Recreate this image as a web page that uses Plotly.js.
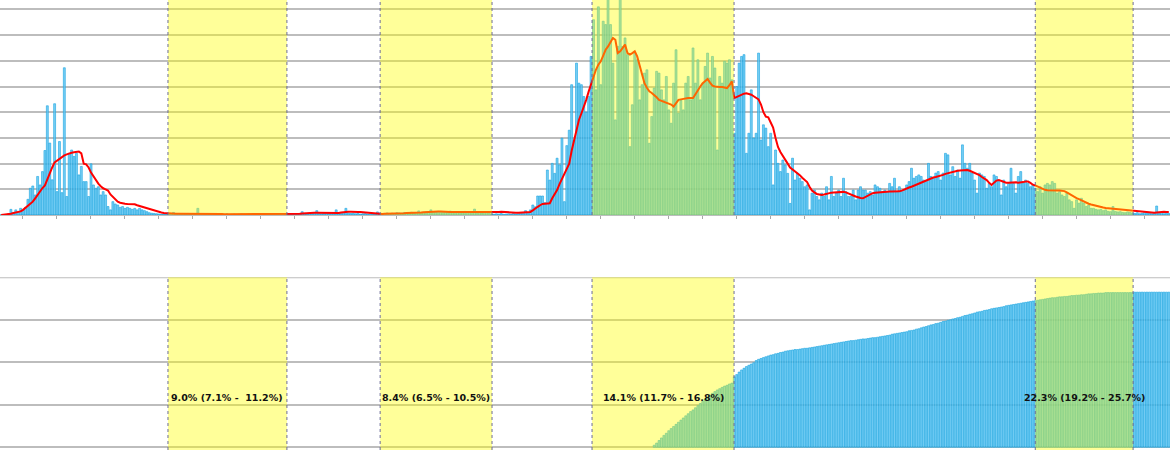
<!DOCTYPE html>
<html><head><meta charset="utf-8">
<script src="https://cdn.plot.ly/plotly-3.0.1.min.js"></script>
<style>html,body{margin:0;padding:0;background:#fff}#chart{width:1170px;height:450px}</style>
</head><body><div id="chart"></div>
<script>
// ---- daily values (top panel), one value per day, grid unit = 100 ----
const dailyWave1 = [0,0,2,5,22,8,20,10,26,18,30,61,104,113,78,150,117,169,251,425,280,137,433,91,286,87,573,72,240,253,228,240,156,189,130,130,72,199,117,104,110,78,91,78,33,20,52,43,39,30,33,26,30,26,22,26,20,26,20,17,13,9,7,6,5,4,3,4,3];
const dailyPeriod1 = [4,5,10,6,4,3,5,4,6,3,5,4,26,5,3,4,6,3,4,5,3,2,4,3,5,2,3,4,2,3,5,3,2,4,3,2,3,2,4,3,2,3,2,3,4,2,3,2,3];
const dailyGap1 = [3,4,2,5,4,6,13,5,4,7,6,8,17,6,5,8,7,6,9,8,20,7,6,9,26,8,6,7,5,6,4,5,6,4,5,3,4,12];
const dailyPeriod2 = [5,4,6,8,5,7,6,9,8,7,10,8,9,11,8,10,16,9,11,12,13,20,11,12,14,10,13,11,12,15,11,13,10,12,9,14,11,10,12,23,9,11,8,10,12,9];
const dailyRise = [4,3,5,4,6,3,4,5,3,6,4,5,8,6,17,9,20,39,32,74,74,74,48,175,136,201,162,221,195,299,52,270,330,507,292,591,513,507,461,400,461,617];
const dailyPeriod3 = [760,487,810,507,754,741,860,741,591,370,656,870,656,689,624,266,429,630,604,448,507,552,565,279,383,494,559,552,487,448,539,409,357,513,643,396,448,409,513,539,448,650,513,604,448,513,578,630,533,617,572,253,539,513,598,591,604,526];
const dailyWave2 = [318,500,591,617,624,240,318,487,299,318,630,292,351,338,266,318,117,253,201,169,214,195,162,45,221,136,162,143,
  130,110,117,20,85,97,72,59,85,72,110,59,150,72,85,97,72,143,91,72,72,97,59,97,110,97,97,85,91,78,117,110,104,91,97,91,123,110,143,91,110,91,97,117,130,182,143,150,156,150,136,130,201,150,143,163,169,136,163,240,234,156,188,150,175,143,273,201,182,201,163,136,85,163,156,150,104,123,110,156,150,130,78,136,110,123,182,123,85,150,169,123,136,123,110,117];
const dailyPeriod4 = [104,91,110,85,117,123,117,130,123,85,91,78,72,85,59,52,26,59,46,65,46,33,39,26,26,22,20,22,17,20,14,13,33,14,12,13,10,9,12,10];
const dailyTail = [8,6,9,5,7,10,6,8,5,7,35,6,9,5,7,6];

// ---- red average line (top panel) ----
const avgWave1 = [0,1,2,3,5,8,10,12,14,20,28,38,46,52,65,80,95,105,115,140,165,185,205,212,220,227,232,236,240,242,244,246,247,240,200,197,185,165,150,132,122,112,104,100,95,80,70,60,52,48,45,44,43,43,43,42,38,35,32,28,25,22,20,17,14,12,10,8,7];
const avgPeriod1 = [6,6,6,5,5,5,5,5,5,5,5,5,6,6,6,5,5,5,4,4,4,4,4,3,3,3,3,3,3,3,3,3,3,3,3,3,3,3,3,3,3,3,3,3,3,3,3,3,3];
const avgGap1 = [3,3,3,4,4,5,6,7,8,8,9,9,9,9,8,8,7,7,7,7,7,8,10,12,13,13,13,12,12,12,12,11,10,8,6,5,4,4];
const avgPeriod2 = [4,4,5,5,5,6,6,6,7,7,7,8,8,9,9,9,10,10,11,12,13,13,14,14,14,14,13,13,12,12,12,12,12,12,11,11,11,10,10,10,10,10,10,10,10,10];
const avgRise = [10,10,11,12,13,12,11,10,9,9,9,9,10,11,12,12,12,18,26,32,38,43,44,45,46,65,82,97,120,140,160,185,200,250,290,335,370,395,420,448,480,510];
const avgPeriod3 = [540,565,585,598,620,643,656,670,689,682,630,637,650,663,630,624,630,637,617,585,552,513,495,481,475,468,458,448,445,442,438,435,430,422,435,448,450,452,454,455,455,455,470,487,500,513,520,529,515,503,500,498,498,498,497,494,505,520];
const avgWave2 = [455,460,465,470,472,474,472,468,462,455,450,430,400,383,380,360,340,300,265,245,228,212,200,185,178,172,165,155,145,135,128,110,95,88,82,80,78,80,83,85,87,88,89,90,91,90,88,85,80,76,72,68,66,65,70,76,82,85,87,88,89,90,91,91,91,91,91,91,92,95,100,104,107,110,114,118,123,128,132,136,140,143,146,148,150,153,156,160,163,166,169,170,172,173,174,175,175,172,168,165,162,155,148,142,136,125,117,126,134,136,132,128,126,126,127,128,127,126,126,128,130,130,125,118];
const avgPeriod4 = [115,110,106,102,98,96,95,95,95,95,95,95,93,88,82,76,70,66,62,57,52,48,44,41,38,35,32,30,29,27,26,25,24,23,22,21,20,19,18,17];
const avgTail = [16,15,14,13,12,11,10,10,9,9,10,12,13,13,12,12];

// ---- cumulative (bottom panel), starts at day 269 ----
const cumulativeStartDay = 269;
const cumulative = [0.5,1.0,1.6,2.2,2.8,3.3,3.9,4.4,4.9,5.4,5.9,6.4,6.9,7.4,7.9,8.4,8.8,9.3,9.8,10.3,10.8,11.3,11.8,12.3,12.7,13.1,13.5,13.8,14.1,14.4,14.6,14.9,15.1,
  16.6,17.1,17.7,18.2,18.6,19.0,19.3,19.6,19.9,20.4,20.7,20.9,21.1,21.3,21.5,21.7,21.8,22.0,22.1,22.3,22.4,22.6,22.7,22.8,22.9,23.0,23.0,23.1,23.2,23.3,23.3,
  23.4,23.5,23.6,23.7,23.8,23.9,24.0,24.1,24.2,24.3,24.4,24.5,24.6,24.7,
  24.8,24.9,25.0,25.1,25.1,25.2,25.3,25.4,25.5,25.5,25.6,25.7,25.8,25.8,25.9,26.0,
  26.1,26.2,26.3,26.4,26.6,26.7,26.8,26.9,27.0,27.1,27.2,27.4,27.5,27.6,27.8,
  27.9,28.1,28.3,28.4,28.6,28.8,28.9,29.1,29.2,29.4,29.6,29.7,29.9,30.0,30.2,30.3,
  30.5,30.6,30.8,31.0,31.1,31.3,31.4,31.6,31.8,31.9,32.0,32.2,32.3,32.4,32.6,32.7,
  32.8,32.9,33.0,33.1,33.3,33.4,33.5,33.6,33.7,33.8,33.9,34.0,34.1,34.2,34.3,
  34.4,34.5,34.6,34.7,34.8,34.9,35.0,35.1,35.2,35.2,35.3,35.4,35.4,35.5,35.5,35.6,
  35.7,35.7,35.8,35.8,35.9,35.9,36.0,36.1,36.1,36.2,36.2,36.3,36.3,36.3,36.4,
  36.4,36.4,36.4,36.4,36.4,36.4,36.4,36.4,36.4,36.4,36.4,36.5,36.5,36.5,36.5,36.5,36.5,36.5,36.5,36.5,36.5,36.5,36.5,36.5,36.5,36.5];

// ---- highlighted periods and their labels ----
const periodStart = [68.7, 156.1, 243.4, 426.0];
const periodEnd   = [117.7, 202.2, 301.9, 466.3];
const periodLabels = ["9.0% (7.1% -\u00a0 11.2%)", "8.4% (6.5% - 10.5%)", "14.1% (11.7% - 16.8%)", "22.3% (19.2% - 25.7%)"];
const labelLevel = 11.8;

const daily = [].concat(dailyWave1, dailyPeriod1, dailyGap1, dailyPeriod2, dailyRise, dailyPeriod3, dailyWave2, dailyPeriod4, dailyTail);
const avg = [].concat(avgWave1, avgPeriod1, avgGap1, avgPeriod2, avgRise, avgPeriod3, avgWave2, avgPeriod4, avgTail);
const days = daily.map((_, i) => i);
const avgDays = avg.map((_, i) => i);
const cumDays = cumulative.map((_, i) => cumulativeStartDay + i);
const nDays = days.length;

const barFill = 'rgba(96,198,242,0.85)';
const barEdge = '#17A5E1';
const grid = '#BDBDBD';

const traces = [
  {type:'bar', x:days, y:daily, xaxis:'x', yaxis:'y', marker:{color:barFill, line:{color:barEdge, width:0.6}}, hoverinfo:'skip'},
  {type:'scatter', mode:'lines', x:avgDays, y:avg, xaxis:'x', yaxis:'y', line:{color:'#FF0000', width:2}, hoverinfo:'skip'},
  {type:'bar', x:cumDays, y:cumulative, xaxis:'x2', yaxis:'y2', marker:{color:barFill, line:{color:barEdge, width:0.6}}, hoverinfo:'skip'}
];

const shapes = [
  // top gridline of the lower panel (sits exactly on the panel edge)
  {type:'line', xref:'x2 domain', yref:'y2', x0:0, x1:1, y0:40, y1:40, line:{color:grid, width:2}, layer:'below'}
];
const annotations = [];
for (let k = 0; k < periodStart.length; k++) {
  [['x','y domain'],['x2','y2 domain']].forEach(([xr, yr]) => {
    shapes.push({type:'rect', xref:xr, yref:yr, x0:periodStart[k], x1:periodEnd[k], y0:0, y1:1,
      fillcolor:'rgba(255,255,0,0.40)', line:{width:0}, layer:'above'});
    [periodStart[k], periodEnd[k]].forEach(xv => shapes.push({type:'line', xref:xr, yref:yr, x0:xv, x1:xv, y0:0, y1:1,
      line:{color:'#6C6C96', width:1, dash:'dot'}, layer:'above'}));
  });
  annotations.push({xref:'x2', yref:'y2', x:(periodStart[k]+periodEnd[k])/2, y:labelLevel, text:'<b>'+periodLabels[k]+'</b>',
    showarrow:false, font:{family:'DejaVu Sans', size:9.5, color:'#111'}});
}

const layout = {
  width:1170, height:450, margin:{l:0, r:0, t:0, b:0, pad:0},
  paper_bgcolor:'#fff', plot_bgcolor:'#fff', showlegend:false, bargap:0.2,
  xaxis:{range:[-0.5, nDays - 0.5], anchor:'y', domain:[0,1], showgrid:false, zeroline:false, showline:false,
    ticks:'outside', ticklen:3, tickwidth:1, tickcolor:'#A8A8A8', tick0:8.85, dtick:14, tickmode:'linear', showticklabels:false},
  yaxis:{domain:[0.5222,1], range:[0,836.6], anchor:'x', tickmode:'linear', tick0:0, dtick:100, showgrid:true,
    gridcolor:grid, gridwidth:2, zeroline:true, zerolinecolor:grid, zerolinewidth:2, showticklabels:false, ticks:''},
  xaxis2:{range:[-0.5, nDays - 0.5], anchor:'y2', domain:[0,1], visible:false},
  yaxis2:{domain:[0,0.3838], range:[-0.635,40], anchor:'x2', tickmode:'linear', tick0:0, dtick:10, showgrid:true,
    gridcolor:grid, gridwidth:2, zeroline:false, showticklabels:false, ticks:''},
  shapes:shapes, annotations:annotations
};

Plotly.newPlot('chart', traces, layout, {staticPlot:true, displayModeBar:false});
</script></body></html>
